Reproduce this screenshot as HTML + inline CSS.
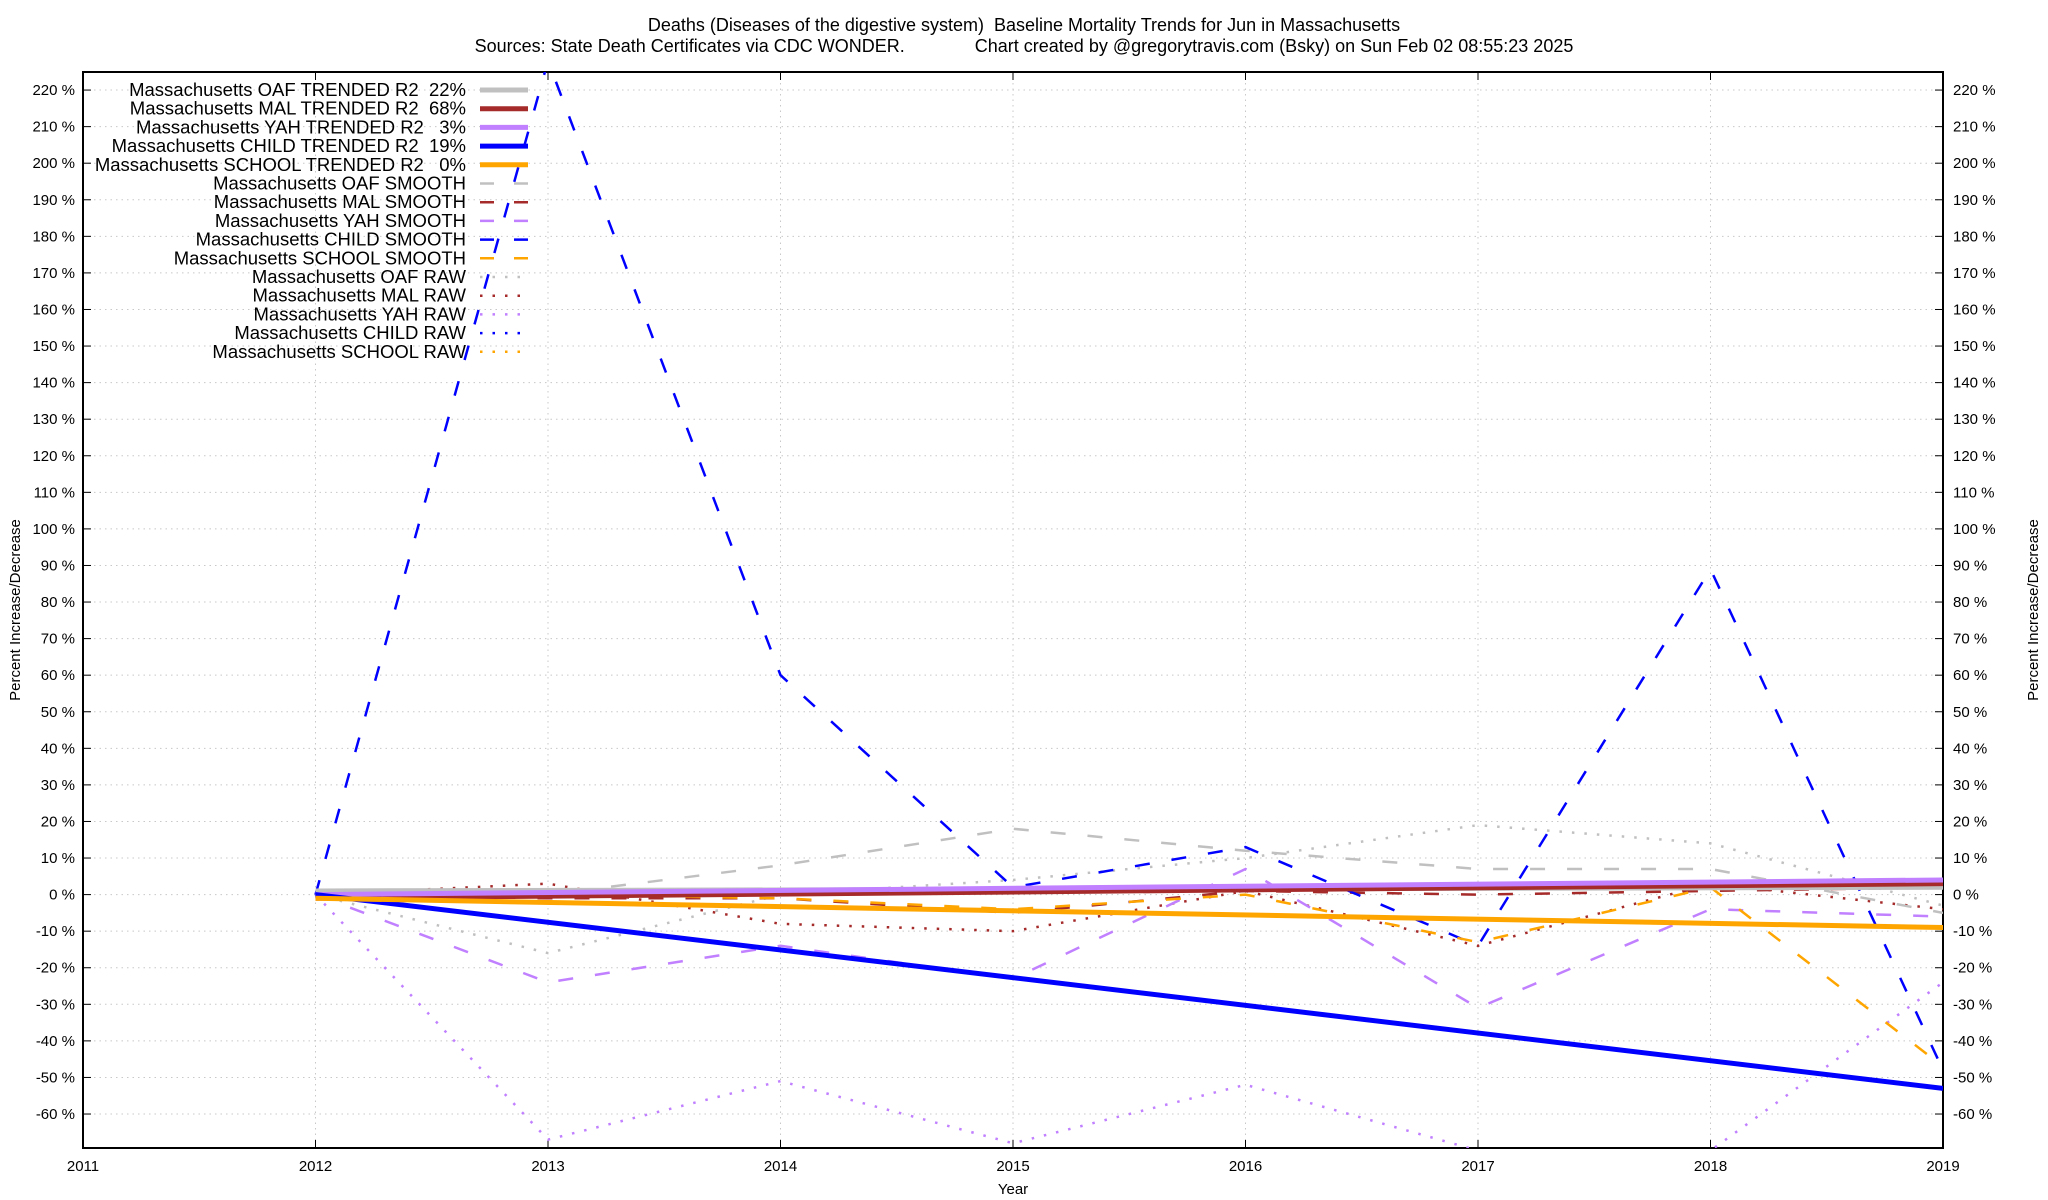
<!DOCTYPE html>
<html><head><meta charset="utf-8"><style>
body{margin:0;background:#fff;}
svg{display:block;font-family:"Liberation Sans",sans-serif;}
text{white-space:pre;}
</style></head><body>
<svg id="chart" width="2048" height="1200" xmlns="http://www.w3.org/2000/svg">
<text x="1024" y="31" font-size="18" text-anchor="middle">Deaths (Diseases of the digestive system)  Baseline Mortality Trends for Jun in Massachusetts</text>
<text x="1024" y="52" font-size="18" text-anchor="middle">Sources: State Death Certificates via CDC WONDER.              Chart created by @gregorytravis.com (Bsky) on Sun Feb 02 08:55:23 2025</text>
<text transform="translate(20,610) rotate(-90)" font-size="15" text-anchor="middle">Percent Increase/Decrease</text>
<text transform="translate(2038,610) rotate(-90)" font-size="15" text-anchor="middle">Percent Increase/Decrease</text>
<text x="1013" y="1194" font-size="15" text-anchor="middle">Year</text>
<defs><clipPath id="pc"><rect x="83" y="72" width="1860" height="1076"/></clipPath></defs>
<g id="grid"></g>
<g id="axes"></g>
<g id="series" clip-path="url(#pc)"></g>
<g id="legend"></g>
</svg>
<script>
const years = [2012,2013,2014,2015,2016,2017,2018,2019];
const xTicks = [2011,2012,2013,2014,2015,2016,2017,2018,2019];
const yTicks = [-60,-50,-40,-30,-20,-10,0,10,20,30,40,50,60,70,80,90,100,110,120,130,140,150,160,170,180,190,200,210,220];
const oafSmooth = [0,0,8,18,12,7,7,-5];
const malSmooth = [0,-1,-1,-5,1,0,1,2];
const yahSmooth = [0,-24,-14,-23,7,-31,-4,-6];
const childSmooth = [0,228,60,2,13,-14,89,-48];
const schoolSmooth = [0,0,-1,-4,0,-13,2,-47];
const oafRaw = [0,-16,0,4,10,19,14,-3];
const malRaw = [0,3,-8,-10,1,-14,3,-4];
const yahRaw = [0,-67,-51,-68,-52,-70,-70,-24];
const childRaw = [0,228,60,2,13,-14,89,-48];
const schoolRaw = [0,0,-1,-4,0,-13,2,-47];
const trendStart = [1,-1,0,0,-1];
const trendEnd = [2,3,4,-53,-9];
const trendLabels = ["Massachusetts OAF TRENDED R2  22%","Massachusetts MAL TRENDED R2  68%","Massachusetts YAH TRENDED R2   3%","Massachusetts CHILD TRENDED R2  19%","Massachusetts SCHOOL TRENDED R2   0%"];
const smoothLabels = ["Massachusetts OAF SMOOTH","Massachusetts MAL SMOOTH","Massachusetts YAH SMOOTH","Massachusetts CHILD SMOOTH","Massachusetts SCHOOL SMOOTH"];
const rawLabels = ["Massachusetts OAF RAW","Massachusetts MAL RAW","Massachusetts YAH RAW","Massachusetts CHILD RAW","Massachusetts SCHOOL RAW"];
const colors = ["#c0c0c0","#a52a2a","#c080ff","#0000ff","#ffa500"];
const keys = ["oaf","mal","yah","child","school"];

const L=83,R=1943,T=72,B=1148;
const x = v => L + (v-2011)/(2019-2011)*(R-L);
const y0 = 894.6, per = 3.657;
const y = v => y0 - v*per;
const NS="http://www.w3.org/2000/svg";
function mk(tag, parent, attrs){const e=document.createElementNS(NS,tag);for(const k in attrs)e.setAttribute(k,attrs[k]);parent.appendChild(e);return e;}
const grid=document.getElementById('grid'), axes=document.getElementById('axes'), ser=document.getElementById('series'), leg=document.getElementById('legend');

xTicks.forEach(t=>{
  const gl=mk('line',grid,{x1:x(t),x2:x(t),y1:T,y2:B,stroke:'#c8c8c8','stroke-dasharray':'1.5,4'});
  
  
  mk('line',axes,{x1:x(t),x2:x(t),y1:B,y2:B-8,stroke:'#000'});
  mk('line',axes,{x1:x(t),x2:x(t),y1:T,y2:T+8,stroke:'#000'});
  const tx=mk('text',axes,{x:x(t),y:1171,'font-size':15,'text-anchor':'middle'});
  tx.textContent=t;
  
  
});
yTicks.forEach(t=>{
  const gl=mk('line',grid,{x1:L,x2:R,y1:y(t),y2:y(t),stroke:'#c8c8c8','stroke-dasharray':'1.5,4'});
  
  
  mk('line',axes,{x1:L,x2:L+8,y1:y(t),y2:y(t),stroke:'#000'});
  mk('line',axes,{x1:R,x2:R-8,y1:y(t),y2:y(t),stroke:'#000'});
  const a=mk('text',axes,{x:L-8,y:y(t)+5,'font-size':15,'text-anchor':'end'});
  a.textContent=t+' %';
  
  
  const b=mk('text',axes,{x:R+10,y:y(t)+5,'font-size':15,'text-anchor':'start'});
  b.textContent=t+' %';
  
  
});
const frame=mk('rect',axes,{x:L,y:T,width:R-L,height:B-T,fill:'none',stroke:'#000','stroke-width':2});



const smooth=[oafSmooth,malSmooth,yahSmooth,childSmooth,schoolSmooth];
const raw=[oafRaw,malRaw,yahRaw,childRaw,schoolRaw];
const pts = arr => arr.map((v,i)=>x(years[i])+','+y(v)).join(' ');
const DASH='15,22', DOT='2.5,10';
for(let i=0;i<5;i++){
  const p=mk('polyline',ser,{points:pts(raw[i]),fill:'none',stroke:colors[i],'stroke-width':2.5,'stroke-dasharray':DOT,'stroke-linecap':'butt'});
  if(i>=3) p.setAttribute('stroke-opacity','0');
  
  
}
for(let i=0;i<5;i++){
  const p=mk('polyline',ser,{points:pts(smooth[i]),fill:'none',stroke:colors[i],'stroke-width':2.5,'stroke-dasharray':DASH});
  
  
}
for(let i=0;i<5;i++){
  const p=mk('line',ser,{x1:x(2012),y1:y(trendStart[i]),x2:x(2019),y2:y(trendEnd[i]),stroke:colors[i],'stroke-width':5});
  
  
}
const labels=[...trendLabels,...smoothLabels,...rawLabels];
labels.forEach((lab,j)=>{
  const ly=90+j*18.7;
  const ci=j%5, kind=Math.floor(j/5);
  const t=mk('text',leg,{x:466,y:ly+6,'font-size':18.5,'text-anchor':'end'});
  t.textContent=lab;
  
  
  const a={x1:480,x2:528,y1:ly,y2:ly,stroke:colors[ci]};
  if(kind===0)a['stroke-width']=5;
  else if(kind===1){a['stroke-width']=2.5;a['stroke-dasharray']='14,20';}
  else {a['stroke-width']=2.5;a['stroke-dasharray']='2.5,10';}
  const s=mk('line',leg,a);
  
  
});
</script>
</body></html>
